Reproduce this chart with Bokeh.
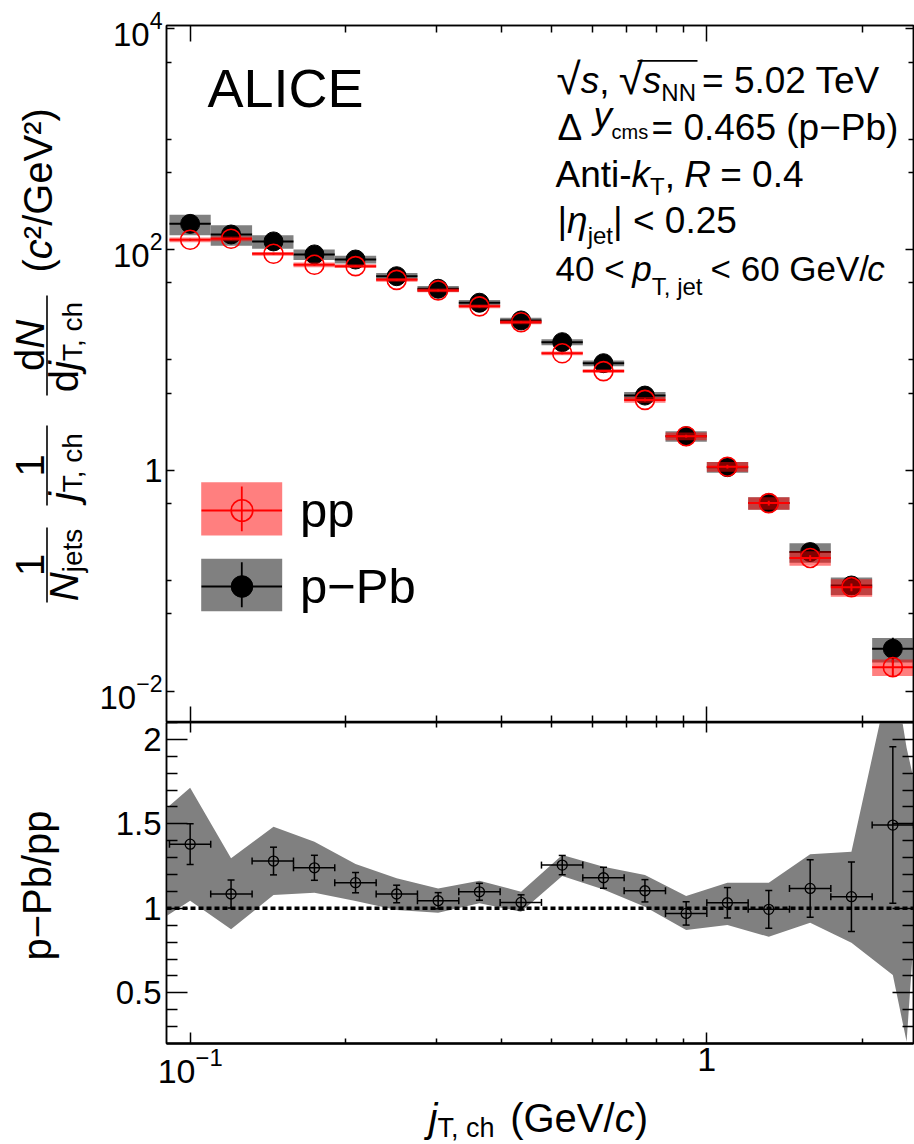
import math
from bokeh.plotting import figure
from bokeh.models import (ColumnDataSource, FixedTicker, LogAxis, LinearAxis, LogTickFormatter,
                          Range1d, Label, BoxAnnotation, Span, Legend, LegendItem)
from bokeh.layouts import column, row
from bokeh.embed import file_html
from bokeh.resources import INLINE

FONT = "Liberation Sans"

# ---------------- data ----------------
bin_edges = [0.0912, 0.1096, 0.1318, 0.1585, 0.1905, 0.2291, 0.2754, 0.3311, 0.3981, 0.4786,
             0.5754, 0.6918, 0.8318, 1.0, 1.2023, 1.4454, 1.7378, 2.0893, 2.5119]
jt = [0.1, 0.120, 0.145, 0.174, 0.209, 0.251, 0.302, 0.363, 0.437, 0.525,
      0.631, 0.759, 0.912, 1.096, 1.318, 1.585, 1.905, 2.291]

ppb_y = [171, 137, 118.6, 90.4, 81.3, 57.4, 44.2, 33.0, 22.8, 14.5,
         9.35, 4.76, 2.04, 1.07, 0.505, 0.182, 0.0906, 0.0242]
ppb_sys = [0.21, 0.21, 0.14, 0.11, 0.08, 0.07, 0.06, 0.06, 0.06, 0.06,
           0.06, 0.08, 0.11, 0.11, 0.13, 0.20, 0.18, 0.25]
ppb_stat = [0.03, 0.03, 0.03, 0.03, 0.03, 0.03, 0.03, 0.03, 0.03, 0.03,
            0.03, 0.04, 0.04, 0.05, 0.06, 0.08, 0.10, 0.26]

pp_y = [122.7, 125.4, 91.6, 72.8, 70.8, 53.2, 42.7, 30.6, 22.0, 11.5,
        7.93, 4.35, 2.04, 1.08, 0.505, 0.161, 0.0875, 0.0165]
pp_sys = [0.05, 0.05, 0.04, 0.05, 0.04, 0.04, 0.04, 0.04, 0.04, 0.04,
          0.04, 0.06, 0.08, 0.10, 0.13, 0.15, 0.18, 0.17]
pp_stat = [0.02, 0.02, 0.02, 0.02, 0.02, 0.02, 0.02, 0.02, 0.02, 0.02,
           0.02, 0.03, 0.03, 0.04, 0.05, 0.06, 0.08, 0.18]

ratio = [1.380, 1.085, 1.280, 1.240, 1.152, 1.085, 1.045, 1.098, 1.035, 1.256,
         1.181, 1.104, 0.970, 1.033, 0.994, 1.118, 1.069, 1.493]
ratio_stat = [0.12, 0.083, 0.082, 0.074, 0.06, 0.052, 0.048, 0.05, 0.045, 0.057,
              0.062, 0.066, 0.069, 0.09, 0.112, 0.17, 0.206, 0.463]

band_x = [0.09, 0.1, 0.120, 0.145, 0.174, 0.209, 0.251, 0.302, 0.363, 0.437, 0.525,
          0.631, 0.759, 0.912, 1.096, 1.318, 1.585, 1.905, 2.291, 2.436, 2.52]
band_hi = [1.592, 1.714, 1.296, 1.483, 1.394, 1.262, 1.178, 1.118, 1.163, 1.098, 1.315,
           1.246, 1.197, 1.073, 1.152, 1.152, 1.320, 1.335, 2.45, 1.95, 1.75]
band_lo = [0.955, 1.045, 0.876, 1.079, 1.092, 1.043, 0.990, 0.974, 1.030, 0.980, 1.191,
           1.112, 1.010, 0.872, 0.901, 0.832, 0.915, 0.797, 0.605, 0.21, 0.87]

x_major = [0.1, 1]
x_minor = [0.2, 0.3, 0.4, 0.5, 0.6, 0.7, 0.8, 0.9, 2]
y_major = [1e-2, 1, 1e2, 1e4]
y_minor = [0.05, 0.1, 0.5, 5, 10, 50, 500, 1000, 5000]
r_major = [0.5, 1, 1.5, 2]
r_minor = [0.3, 0.4, 0.6, 0.7, 0.8, 0.9, 1.1, 1.2, 1.3, 1.4, 1.6, 1.7, 1.8, 1.9, 2.1]

# ---------------- layout helpers (page pixel coordinates) ----------------
LW = 96             # width of the left title strip
FL = 166            # page x of the panels' frame left edge
TOP_FB = 722        # page y of the top frame's bottom edge
BOT_FB = 1043       # page y of the ratio frame's bottom edge
BOT_B = 50          # space under the ratio frame for tick labels
PAGE_H = 1144
MID = 0.3465        # distance from baseline to the middle of the text box, in em

WID = {' ': .278, '(': .333, ')': .333, ',': .278, '-': .333, '.': .278, '/': .278,
       '0': .556, '1': .556, '2': .556, '3': .556, '4': .556, '5': .556, '6': .556, '7': .556,
       '8': .556, '9': .556, '<': .584, '=': .584, 'A': .667, 'G': .778, 'N': .722, 'P': .667,
       'R': .722, 'T': .611, 'V': .667, 'b': .556, 'c': .5, 'd': .556, 'e': .556, 'h': .556,
       'i': .222, 'j': .222, 'k': .5, 'm': .833, 'n': .556, 'p': .556, 's': .5, 't': .278,
       'y': .5, '|': .26, '\u2212': .584, '\u0394': .668, '\u03b7': .556, '\u221a': .549,
       '\u00b2': .333}
SPACE = .25


def tw(s, size):
    return sum((SPACE if c == ' ' else WID.get(c, .556)) for c in s) * size


class Place:
    def __init__(self, fig, ox, fb):
        self.fig, self.ox, self.fb = fig, ox, fb

    def lab(self, text, px, py, size, italic=False, rotated=False, align="left"):
        # (px, py) is the start (or centre) of the text on its baseline
        if rotated:
            ax_, ay_ = px - MID * size, py
        else:
            ax_, ay_ = px, py - MID * size
        self.fig.add_layout(Label(x=ax_ - self.ox, y=self.fb - ay_, x_units="screen", y_units="screen",
                                  text=text, text_font=FONT, text_font_size=f"{size}px",
                                  text_font_style="italic" if italic else "normal",
                                  angle=math.pi / 2 if rotated else 0.0,
                                  text_align=align, text_baseline="middle",
                                  text_color="black"))

    def run(self, pieces, px, py):
        x = px
        for text, size, it, dy in pieces:
            core = text.strip(' ')
            lead = len(text) - len(text.lstrip(' '))
            trail = len(text) - len(text.rstrip(' '))
            x += lead * SPACE * size
            if core:
                self.lab(core, x, py + dy, size, it)
                x += tw(core, size)
            x += trail * SPACE * size
        return x

    def vrun(self, pieces, px, py):
        y = py
        for text, size, it, dx in pieces:
            self.lab(text, px + dx, y, size, it, rotated=True)
            y -= tw(text, size)
        return y

    def box(self, l, r, t, b, color, alpha=1.0):
        self.fig.add_layout(BoxAnnotation(left=l - self.ox, right=r - self.ox,
                                          top=self.fb - t, bottom=self.fb - b,
                                          left_units="screen", right_units="screen",
                                          top_units="screen", bottom_units="screen",
                                          fill_color=color, fill_alpha=alpha, line_color=None))


def style_axis(ax, major_in, minor_in, labels=True, size="34px", standoff=6):
    ax.major_tick_in = major_in
    ax.major_tick_out = 0
    ax.minor_tick_in = minor_in
    ax.minor_tick_out = 0
    ax.axis_line_color = "black"
    ax.axis_line_width = 1.5
    ax.major_tick_line_color = "black"
    ax.major_tick_line_width = 1.5
    ax.minor_tick_line_color = "black"
    ax.minor_tick_line_width = 1.5
    if labels:
        ax.major_label_text_font = FONT
        ax.major_label_text_font_size = size
        ax.major_label_standoff = standoff
        ax.major_label_text_color = "black"
    else:
        ax.major_label_text_font_size = "0px"
        ax.major_label_text_alpha = 0
        ax.major_label_standoff = 0


def blank_fig(w, h, border_left=0):
    f = figure(width=w, height=h, x_range=Range1d(0, 1), y_range=Range1d(0, 1),
               output_backend="svg", toolbar_location=None,
               x_axis_location=None, y_axis_location=None,
               min_border_left=border_left, min_border_right=0, min_border_top=0, min_border_bottom=0,
               background_fill_color="white", border_fill_color="white")
    f.outline_line_color = None
    f.xgrid.visible = False
    f.ygrid.visible = False
    return f


# ---------------- top panel ----------------
top = figure(frame_width=747, frame_height=697, x_axis_type="log", y_axis_type="log",
             x_range=Range1d(0.09, 2.512), y_range=Range1d(0.0052, 10715),
             output_backend="svg", toolbar_location=None,
             min_border_left=FL - LW, min_border_right=1, min_border_top=25, min_border_bottom=0,
             background_fill_color="white", border_fill_color="white")
top.xgrid.visible = False
top.ygrid.visible = False
top.outline_line_color = "black"
top.outline_line_width = 1.5

ax = top.xaxis[0]
ax.ticker = FixedTicker(ticks=x_major, minor_ticks=x_minor)
style_axis(ax, 16, 7, labels=False)
ay = top.yaxis[0]
ay.ticker = FixedTicker(ticks=y_major, minor_ticks=y_minor)
ay.formatter = LogTickFormatter()
ay.major_label_overrides = {1: "1"}
style_axis(ay, 8, 5, labels=True, size="33px", standoff=4)

ax_top = LogAxis(ticker=FixedTicker(ticks=x_major, minor_ticks=x_minor))
style_axis(ax_top, 16, 7, labels=False)
top.add_layout(ax_top, "above")
ay_r = LogAxis(ticker=FixedTicker(ticks=y_major, minor_ticks=y_minor))
style_axis(ay_r, 8, 5, labels=False)
top.add_layout(ay_r, "right")

src_ppb = ColumnDataSource(dict(
    x=jt, xl=bin_edges[:-1], xr=bin_edges[1:], y=ppb_y,
    sl=[v * (1 - s) for v, s in zip(ppb_y, ppb_sys)], sh=[v * (1 + s) for v, s in zip(ppb_y, ppb_sys)],
    el=[v * (1 - s) for v, s in zip(ppb_y, ppb_stat)], eh=[v * (1 + s) for v, s in zip(ppb_y, ppb_stat)]))
src_pp = ColumnDataSource(dict(
    x=jt, xl=bin_edges[:-1], xr=bin_edges[1:], y=pp_y,
    sl=[v * (1 - s) for v, s in zip(pp_y, pp_sys)], sh=[v * (1 + s) for v, s in zip(pp_y, pp_sys)],
    el=[v * (1 - s) for v, s in zip(pp_y, pp_stat)], eh=[v * (1 + s) for v, s in zip(pp_y, pp_stat)]))

top.quad(left="xl", right="xr", bottom="sl", top="sh", source=src_ppb,
         fill_color="#808080", line_color=None)
h_ppb = top.segment(x0="xl", x1="xr", y0="y", y1="y", source=src_ppb, line_color="black", line_width=2)
top.segment(x0="x", x1="x", y0="el", y1="eh", source=src_ppb, line_color="black", line_width=2)
m_ppb = top.scatter(x="x", y="y", source=src_ppb, marker="circle", size=19,
                    fill_color="black", line_color="black")

top.quad(left="xl", right="xr", bottom="sl", top="sh", source=src_pp,
         fill_color="red", fill_alpha=0.5, line_color=None)
h_pp = top.segment(x0="xl", x1="xr", y0="y", y1="y", source=src_pp, line_color="red", line_width=2)
top.segment(x0="x", x1="x", y0="el", y1="eh", source=src_pp, line_color="red", line_width=2)
m_pp = top.scatter(x="x", y="y", source=src_pp, marker="circle", size=19,
                   fill_color=None, line_color="red", line_width=1.6)

T = Place(top, FL, TOP_FB)
# legend boxes and vertical bars
T.box(200.7, 281.7, 481.7, 535.0, "red", 0.5)
T.box(240.4, 242.2, 486.0, 530.7, "red", 1.0)
T.box(200.7, 281.7, 558.3, 610.7, "#808080", 1.0)
T.box(240.4, 242.2, 561.7, 606.7, "black", 1.0)

leg = Legend(items=[LegendItem(label="pp", renderers=[h_pp, m_pp]),
                    LegendItem(label="p\u2212Pb", renderers=[h_ppb, m_ppb])],
             location=(35, 108), glyph_width=81, glyph_height=54, spacing=20,
             label_standoff=18, padding=0, margin=0, border_line_color=None,
             background_fill_alpha=0, label_text_font=FONT, label_text_font_size="49px",
             label_text_color="black")
top.add_layout(leg)

# ALICE and the info text
T.lab("ALICE", 207, 106, 54)
S = 37
s = 24
T.run([("\u221a", 44, False, 0), ("s", S, True, 0), (", ", S, False, 0),
       ("\u221a", 44, False, 0), ("s", S, True, 0), ("NN ", s, False, 7),
       ("= 5.02 TeV", S, False, 0)], 556, 93)
T.box(637, 697, 59.5, 61.3, "black", 1.0)
T.lab("\u0394", 557, 140, S)
T.lab("y", 593, 128, S, italic=True)
T.lab("cms", 611, 138, 20)
T.lab("= 0.465 (p\u2212Pb)", 651, 140, S)
T.run([("Anti-", S, False, 0), ("k", S, True, 0), ("T", s, False, 7),
       (", ", S, False, 0), ("R", S, True, 0), (" = 0.4", S, False, 0)], 555, 187)
T.run([("|", S, False, 0), ("\u03b7", S, True, 0), ("jet", s, False, 10),
       ("| < 0.25", S, False, 0)], 557, 233)
T.run([("40 < ", 35, False, 0), ("p", 35, True, 0), ("T, jet ", s, False, 14),
       ("< 60 GeV/", 35, False, 0), ("c", 35, True, 0)], 555, 280)

# ---------------- ratio panel ----------------
bot = figure(frame_width=747, frame_height=321, x_axis_type="log",
             x_range=top.x_range, y_range=Range1d(0.2, 2.1),
             output_backend="svg", toolbar_location=None,
             min_border_left=FL - LW, min_border_right=1, min_border_top=0, min_border_bottom=BOT_B,
             background_fill_color="white", border_fill_color="white")
bot.xgrid.visible = False
bot.ygrid.visible = False
bot.outline_line_color = "black"
bot.outline_line_width = 1.5

bx = bot.xaxis[0]
bx.ticker = FixedTicker(ticks=x_major, minor_ticks=x_minor)
bx.formatter = LogTickFormatter()
bx.major_label_overrides = {1: "1"}
style_axis(bx, 11, 5, labels=True, size="34px", standoff=4)
bx.axis_line_width = 2.5
by = bot.yaxis[0]
by.ticker = FixedTicker(ticks=r_major, minor_ticks=r_minor)
by.major_label_overrides = {0.5: "0.5", 1: "1", 1.5: "1.5", 2: "2"}
style_axis(by, 21, 11, labels=True, size="33px", standoff=5)

bx_top = LogAxis(ticker=FixedTicker(ticks=x_major, minor_ticks=x_minor))
style_axis(bx_top, 10, 5, labels=False)
bot.add_layout(bx_top, "above")
by_r = LinearAxis(ticker=FixedTicker(ticks=r_major, minor_ticks=r_minor))
style_axis(by_r, 21, 11, labels=False)
bot.add_layout(by_r, "right")

bsrc = ColumnDataSource(dict(x=band_x, lo=band_lo, hi=band_hi))
bot.varea(x="x", y1="lo", y2="hi", source=bsrc, fill_color="#808080")

rsrc = ColumnDataSource(dict(x=jt, y=ratio, xl=bin_edges[:-1], xr=bin_edges[1:],
                             lo=[r - e for r, e in zip(ratio, ratio_stat)],
                             hi=[r + e for r, e in zip(ratio, ratio_stat)]))
bot.segment(x0="x", x1="x", y0="lo", y1="hi", source=rsrc, line_color="black", line_width=1.5)
bot.segment(x0="xl", x1="xr", y0="y", y1="y", source=rsrc, line_color="black", line_width=1.5)
bot.scatter(x="x", y="lo", source=rsrc, marker="dash", size=7, line_color="black", line_width=1.5)
bot.scatter(x="x", y="hi", source=rsrc, marker="dash", size=7, line_color="black", line_width=1.5)
bot.scatter(x="xl", y="y", source=rsrc, marker="dash", size=7, angle=math.pi / 2,
            line_color="black", line_width=1.5)
bot.scatter(x="xr", y="y", source=rsrc, marker="dash", size=7, angle=math.pi / 2,
            line_color="black", line_width=1.5)
bot.scatter(x="x", y="y", source=rsrc, marker="circle", size=10,
            fill_color=None, line_color="black", line_width=1.3)
bot.add_layout(Span(location=1, dimension="width", line_color="black", line_width=3.5,
                    line_dash="5 3"))

# ---------------- title strips ----------------
left = blank_fig(LW, PAGE_H)
L = Place(left, 0, PAGE_H)
F = 40
f = 28
# 1 / N_jets
L.lab("1", 43, 564.5, F, rotated=True, align="center")
L.box(45.7, 47.3, 527, 602, "black")
L.vrun([("N", F, True, 0), ("jets", f, False, 5)], 77, 564.5 + 36.2)
# 1 / j_T,ch
L.lab("1", 43, 465, F, rotated=True, align="center")
L.box(45.7, 47.3, 425, 505, "black")
L.vrun([("j", F, True, 0), ("T, ch", f, False, 5)], 77, 465 + 35.6)
# dN / dj_T,ch
L.vrun([("d", F, False, 0), ("N", F, True, 0)], 43, 345 + 25.6)
L.box(45.7, 47.3, 295, 395, "black")
L.vrun([("d", F, False, 0), ("j", F, True, 0), ("T, ch", f, False, 5)], 77, 345 + 46.7)
# units
L.vrun([("(", F, False, 0), ("c", F, True, 0), ("\u00b2/GeV\u00b2)", F, False, 0)], 51, 272)
# ratio title
L.lab("p\u2212Pb/pp", 50, 885, 40, rotated=True, align="center")

# x-axis title strip: its frame starts at the panels' frame left edge
XH = PAGE_H - (BOT_FB + BOT_B)
xfig = blank_fig(747 + FL - LW + 1, XH, border_left=FL - LW)
X = Place(xfig, FL, PAGE_H)
X.run([("j", 40, True, 0), ("T, ch  ", 27, False, 6), ("(GeV/", 40, False, 0),
       ("c", 40, True, 0), (")", 40, False, 0)], 428, 1131)

layout = row(left, column(top, bot, xfig, spacing=0), spacing=0)
open("out.html", "w").write(file_html(layout, INLINE))
